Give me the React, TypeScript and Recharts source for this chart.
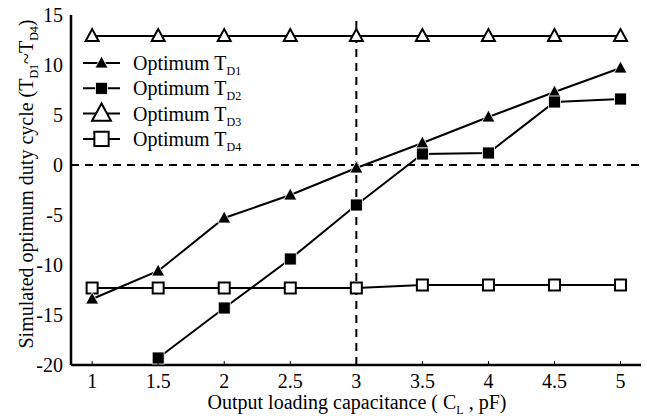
import React from "react";
import {
  LineChart,
  Line,
  XAxis,
  YAxis,
  ReferenceLine,
  Customized,
} from "recharts";

// Output loading capacitance C_L (pF)
const capacitance = [1, 1.5, 2, 2.5, 3, 3.5, 4, 4.5, 5];

// Simulated optimum duty cycle for each delay element
const td1 = [-13.4, -10.6, -5.3, -3.0, -0.3, 2.2, 4.8, 7.3, 9.7];
const td2 = [null, -19.3, -14.3, -9.4, -4.0, 1.1, 1.2, 6.3, 6.6];
const td3 = [12.9, 12.9, 12.9, 12.9, 12.9, 12.9, 12.9, 12.9, 12.9];
const td4 = [-12.3, -12.3, -12.3, -12.3, -12.3, -12.0, -12.0, -12.0, -12.0];

const xTicks = [1, 1.5, 2, 2.5, 3, 3.5, 4, 4.5, 5];
const yTicks = [-20, -15, -10, -5, 0, 5, 10, 15];

const data = capacitance.map((c, i) => ({
  c,
  td1: td1[i],
  td2: td2[i],
  td3: td3[i],
  td4: td4[i],
}));

const FONT = "'Liberation Serif', 'Times New Roman', serif";

type Shape = "triFill" | "sqFill" | "triOpen" | "sqOpen";

function marker(kind: Shape, cx: number, cy: number, scale = 1) {
  if (kind === "triFill" || kind === "triOpen") {
    const w = 6.5 * scale;
    const pts = `${cx},${cy - 7 * scale} ${cx - w},${cy + 5 * scale} ${cx + w},${cy + 5 * scale}`;
    return kind === "triFill" ? (
      <polygon points={pts} fill="#000" stroke="#fff" strokeWidth={0.8} />
    ) : (
      <polygon points={pts} fill="#fff" stroke="#000" strokeWidth={2} strokeLinejoin="miter" />
    );
  }
  const s = (kind === "sqFill" ? 12 : 11) * scale;
  return kind === "sqFill" ? (
    <rect x={cx - s / 2} y={cy - s / 2} width={s} height={s} fill="#000" stroke="#fff" strokeWidth={0.8} />
  ) : (
    <rect x={cx - s / 2} y={cy - s / 2} width={s} height={s} fill="#fff" stroke="#000" strokeWidth={2} />
  );
}

const dotOf = (kind: Shape) => (p: any) => {
  if (p.value == null || p.cx == null || p.cy == null) return <g key={p.key} />;
  return <g key={p.key}>{marker(kind, p.cx, p.cy)}</g>;
};

const XTick = (p: any) => {
  const { x, y, payload } = p;
  return (
    <g>
      <line x1={x} y1={y - 9} x2={x} y2={y - 13} stroke="#000" strokeWidth={1} />
      <text x={x} y={y} dy="0.71em" textAnchor="middle" fontSize={20} fontFamily={FONT} fill="#000">
        {payload.value}
      </text>
    </g>
  );
};

const legendRows: { kind: Shape; sub: string; scale: number }[] = [
  { kind: "triFill", sub: "D1", scale: 1 },
  { kind: "sqFill", sub: "D2", scale: 1 },
  { kind: "triOpen", sub: "D3", scale: 1.45 },
  { kind: "sqOpen", sub: "D4", scale: 1.3 },
];

// Legend block plus both axis titles (with subscripts)
const Annotations = () => (
  <g fontFamily={FONT} fill="#000">
    {legendRows.map((r, i) => {
      const cy = 63 + i * 25.3;
      return (
        <g key={r.sub}>
          <line x1={83} y1={cy} x2={120} y2={cy} stroke="#000" strokeWidth={2} />
          {marker(r.kind, 101.5, cy, r.scale)}
          <text x={133} y={cy + 7} fontSize={20}>
            Optimum T
            <tspan fontSize={12} dy={5}>{r.sub}</tspan>
          </text>
        </g>
      );
    })}
    <text x={357} y={409} fontSize={20} textAnchor="middle">
      Output loading capacitance ( C
      <tspan fontSize={12} dy={5}>L</tspan>
      <tspan dy={-5}> , pF)</tspan>
    </text>
    <text x={0} y={0} fontSize={20} textAnchor="middle" transform="translate(33,184) rotate(-90)">
      Simulated optimum duty cycle (T
      <tspan fontSize={12} dy={5}>D1</tspan>
      <tspan dy={-5}>~T</tspan>
      <tspan fontSize={12} dy={5}>D4</tspan>
      <tspan dy={-5}>)</tspan>
    </text>
  </g>
);

export default function App() {
  return (
    <div style={{ position: "absolute", left: 0, top: 0, background: "#fff" }}>
      <LineChart
        width={647}
        height={419}
        data={data}
        margin={{ top: 15, right: 6, left: 0, bottom: 0 }}
      >
        <XAxis
          xAxisId="b"
          dataKey="c"
          type="number"
          domain={[0.84, 5.155]}
          ticks={xTicks}
          allowDataOverflow
          height={54}
          tickSize={6}
          tickMargin={3}
          tickLine={false}
          tick={<XTick />}
          axisLine={{ stroke: "#000", strokeWidth: 2.5 }}
        />
        <XAxis
          xAxisId="t"
          orientation="top"
          dataKey="c"
          type="number"
          domain={[0.84, 5.155]}
          height={0}
          tick={false}
          tickLine={false}
          axisLine={{ stroke: "#000", strokeWidth: 2 }}
        />
        <YAxis
          yAxisId="l"
          type="number"
          domain={[-20, 15]}
          ticks={yTicks}
          allowDataOverflow
          width={71}
          tickSize={6}
          tickMargin={2}
          tickLine={false}
          tick={{ fill: "#000", fontSize: 20, fontFamily: FONT }}
          axisLine={{ stroke: "#000", strokeWidth: 2.5 }}
        />
        <YAxis
          yAxisId="r"
          orientation="right"
          type="number"
          domain={[-20, 15]}
          width={0}
          tick={false}
          tickLine={false}
          axisLine={{ stroke: "#000", strokeWidth: 2.5 }}
        />
        <ReferenceLine xAxisId="b" yAxisId="l" y={0} stroke="#000" strokeWidth={2} strokeDasharray="8 6" />
        <ReferenceLine xAxisId="b" yAxisId="l" x={3} stroke="#000" strokeWidth={2} strokeDasharray="8 6" />
        <Line xAxisId="b" yAxisId="l" dataKey="td3" stroke="#000" strokeWidth={2} dot={dotOf("triOpen")} isAnimationActive={false} />
        <Line xAxisId="b" yAxisId="l" dataKey="td4" stroke="#000" strokeWidth={2} dot={dotOf("sqOpen")} isAnimationActive={false} />
        <Line xAxisId="b" yAxisId="l" dataKey="td1" stroke="#000" strokeWidth={2} dot={dotOf("triFill")} isAnimationActive={false} />
        <Line xAxisId="b" yAxisId="l" dataKey="td2" stroke="#000" strokeWidth={2} dot={dotOf("sqFill")} isAnimationActive={false} />
        <Customized component={Annotations} />
      </LineChart>
    </div>
  );
}
